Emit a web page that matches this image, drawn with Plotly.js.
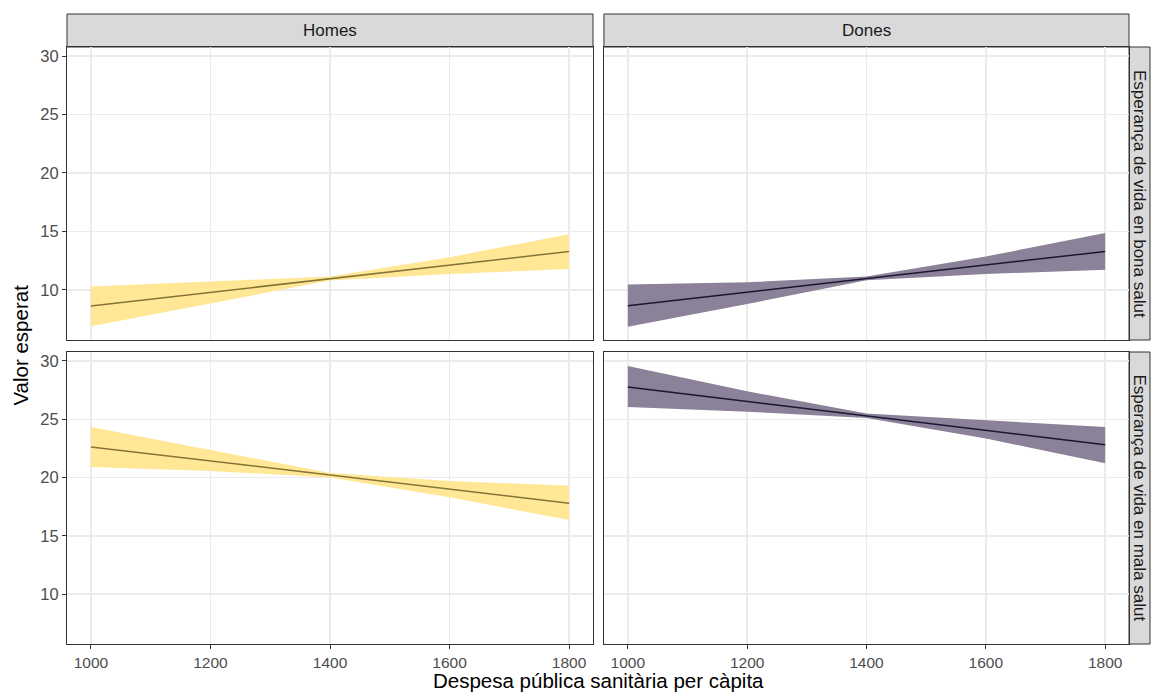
<!DOCTYPE html>
<html>
<head>
<meta charset="utf-8">
<script src="https://cdn.plot.ly/plotly-3.0.1.min.js"></script>
<style>html,body{margin:0;padding:0;background:#fff;}#chart{width:1152px;height:693px;}</style>
</head>
<body>
<div id="chart"></div>
<script>
// Data
const despesa = [1000, 1200, 1400, 1600, 1800];
const sexes = ["Homes", "Dones"];
const outcomes = ["Esperança de vida en bona salut", "Esperança de vida en mala salut"];

const homesBonaFit   = [8.63, 9.80, 10.96, 12.13, 13.29];
const homesBonaUpper = [10.29, 10.71, 11.15, 12.80, 14.76];
const homesBonaLower = [6.90, 8.86, 10.80, 11.37, 11.78];

const donesBonaFit   = [8.65, 9.81, 10.97, 12.13, 13.29];
const donesBonaUpper = [10.46, 10.65, 11.15, 12.86, 14.87];
const donesBonaLower = [6.85, 8.80, 10.82, 11.37, 11.72];

const homesMalaFit   = [22.63, 21.42, 20.22, 19.01, 17.80];
const homesMalaUpper = [24.34, 22.40, 20.40, 19.70, 19.30];
const homesMalaLower = [20.91, 20.57, 20.00, 18.30, 16.35];

const donesMalaFit   = [27.77, 26.53, 25.30, 24.06, 22.82];
const donesMalaUpper = [29.57, 27.40, 25.50, 24.90, 24.34];
const donesMalaLower = [26.06, 25.65, 25.10, 23.35, 21.23];

const xTicks = [1000, 1200, 1400, 1600, 1800];
const yTicks = [10, 15, 20, 25, 30];

const fillColors = {"Homes": "#FFE796", "Dones": "#8B8199"};
const lineColors = {"Homes": "#857436", "Dones": "#1E1530"};

const panels = [
  {sex: "Homes", fit: homesBonaFit, up: homesBonaUpper, lo: homesBonaLower, xa: "x", ya: "y"},
  {sex: "Dones", fit: donesBonaFit, up: donesBonaUpper, lo: donesBonaLower, xa: "x2", ya: "y2"},
  {sex: "Homes", fit: homesMalaFit, up: homesMalaUpper, lo: homesMalaLower, xa: "x3", ya: "y3"},
  {sex: "Dones", fit: donesMalaFit, up: donesMalaUpper, lo: donesMalaLower, xa: "x4", ya: "y4"}
];

const traces = [];
panels.forEach(p => {
  traces.push({
    x: despesa.concat(despesa.slice().reverse()),
    y: p.up.concat(p.lo.slice().reverse()),
    xaxis: p.xa, yaxis: p.ya,
    type: "scatter", mode: "lines", fill: "toself",
    fillcolor: fillColors[p.sex], line: {width: 0, color: fillColors[p.sex]},
    hoverinfo: "skip", showlegend: false
  });
  traces.push({
    x: despesa, y: p.fit,
    xaxis: p.xa, yaxis: p.ya,
    type: "scatter", mode: "lines",
    line: {color: lineColors[p.sex], width: 1.5},
    showlegend: false
  });
});

const FAM = "Liberation Sans, Arial, sans-serif";
const tickFont = {family: FAM, size: 15.5, color: "#4D4D4D"};
function xax(domain, anchor, showLabels) {
  return {
    domain: domain, anchor: anchor, range: [960, 1840],
    tickvals: xTicks, ticktext: xTicks.map(String), showticklabels: showLabels,
    ticks: showLabels ? "outside" : "", ticklen: 4, tickcolor: "#333333", tickwidth: 1,
    showgrid: true, gridcolor: "#EBEBEB", gridwidth: 1.4, zeroline: false,
    showline: true, mirror: true, linecolor: "#333333", linewidth: 1,
    tickfont: tickFont, fixedrange: true
  };
}
function yax(domain, anchor, showLabels) {
  return {
    domain: domain, anchor: anchor, range: [5.72, 30.77],
    tickvals: yTicks, ticktext: yTicks.map(String), showticklabels: showLabels,
    ticks: showLabels ? "outside" : "", ticklen: 4, tickcolor: "#333333", tickwidth: 1,
    showgrid: true, gridcolor: "#EBEBEB", gridwidth: 1.4, zeroline: false,
    showline: true, mirror: true, linecolor: "#333333", linewidth: 1,
    tickfont: {family: FAM, size: 16.5, color: "#4D4D4D"}, fixedrange: true
  };
}

const plotH = 597, plotW = 1062;
const leftDom = [0, 0.4953], rightDom = [0.5056, 1];
const topDom = [0.5092, 1], botDom = [0, 0.4891];
const stripTop = 1 + 33 / plotH;
const stripRight = 1 + 21 / plotW;

const stripFont = {family: FAM, size: 17, color: "#1A1A1A"};
const titleFont = {family: FAM, size: 20.5, color: "#000000"};
const shapes = [
  {type: "rect", xref: "paper", yref: "paper", x0: leftDom[0], x1: leftDom[1], y0: 1, y1: stripTop, fillcolor: "#D9D9D9", line: {color: "#333333", width: 1}, layer: "below"},
  {type: "rect", xref: "paper", yref: "paper", x0: rightDom[0], x1: rightDom[1], y0: 1, y1: stripTop, fillcolor: "#D9D9D9", line: {color: "#333333", width: 1}, layer: "below"},
  {type: "rect", xref: "paper", yref: "paper", x0: 1, x1: stripRight, y0: topDom[0], y1: topDom[1], fillcolor: "#D9D9D9", line: {color: "#333333", width: 1}, layer: "below"},
  {type: "rect", xref: "paper", yref: "paper", x0: 1, x1: stripRight, y0: botDom[0], y1: botDom[1], fillcolor: "#D9D9D9", line: {color: "#333333", width: 1}, layer: "below"}
];
const annotations = [
  {text: sexes[0], xref: "paper", yref: "paper", x: (leftDom[0] + leftDom[1]) / 2, y: (1 + stripTop) / 2, showarrow: false, font: stripFont, xanchor: "center", yanchor: "middle"},
  {text: sexes[1], xref: "paper", yref: "paper", x: (rightDom[0] + rightDom[1]) / 2, y: (1 + stripTop) / 2, showarrow: false, font: stripFont, xanchor: "center", yanchor: "middle"},
  {text: outcomes[0], xref: "paper", yref: "paper", x: (1 + stripRight) / 2, y: (topDom[0] + topDom[1]) / 2, showarrow: false, font: stripFont, textangle: 90, xanchor: "center", yanchor: "middle"},
  {text: outcomes[1], xref: "paper", yref: "paper", x: (1 + stripRight) / 2, y: (botDom[0] + botDom[1]) / 2, showarrow: false, font: stripFont, textangle: 90, xanchor: "center", yanchor: "middle"},
  {text: "Despesa pública sanitària per càpita", xref: "paper", yref: "paper", x: 0.5, y: -49 / plotH, showarrow: false, font: titleFont, xanchor: "center", yanchor: "bottom", borderpad: 0},
  {text: "Valor esperat", xref: "paper", yref: "paper", x: -0.0442, y: 0.5, showarrow: false, font: titleFont, textangle: -90, xanchor: "center", yanchor: "middle"}
];

const layout = {
  width: 1152, height: 693,
  margin: {l: 67, r: 23, t: 47, b: 49},
  paper_bgcolor: "#FFFFFF", plot_bgcolor: "#FFFFFF",
  showlegend: false,
  xaxis: xax(leftDom, "y", false),
  yaxis: yax(topDom, "x", true),
  xaxis2: xax(rightDom, "y2", false),
  yaxis2: yax(topDom, "x2", false),
  xaxis3: xax(leftDom, "y3", true),
  yaxis3: yax(botDom, "x3", true),
  xaxis4: xax(rightDom, "y4", true),
  yaxis4: yax(botDom, "x4", false),
  shapes: shapes,
  annotations: annotations
};

Plotly.newPlot("chart", traces, layout, {displayModeBar: false, staticPlot: true});
</script>
</body>
</html>
